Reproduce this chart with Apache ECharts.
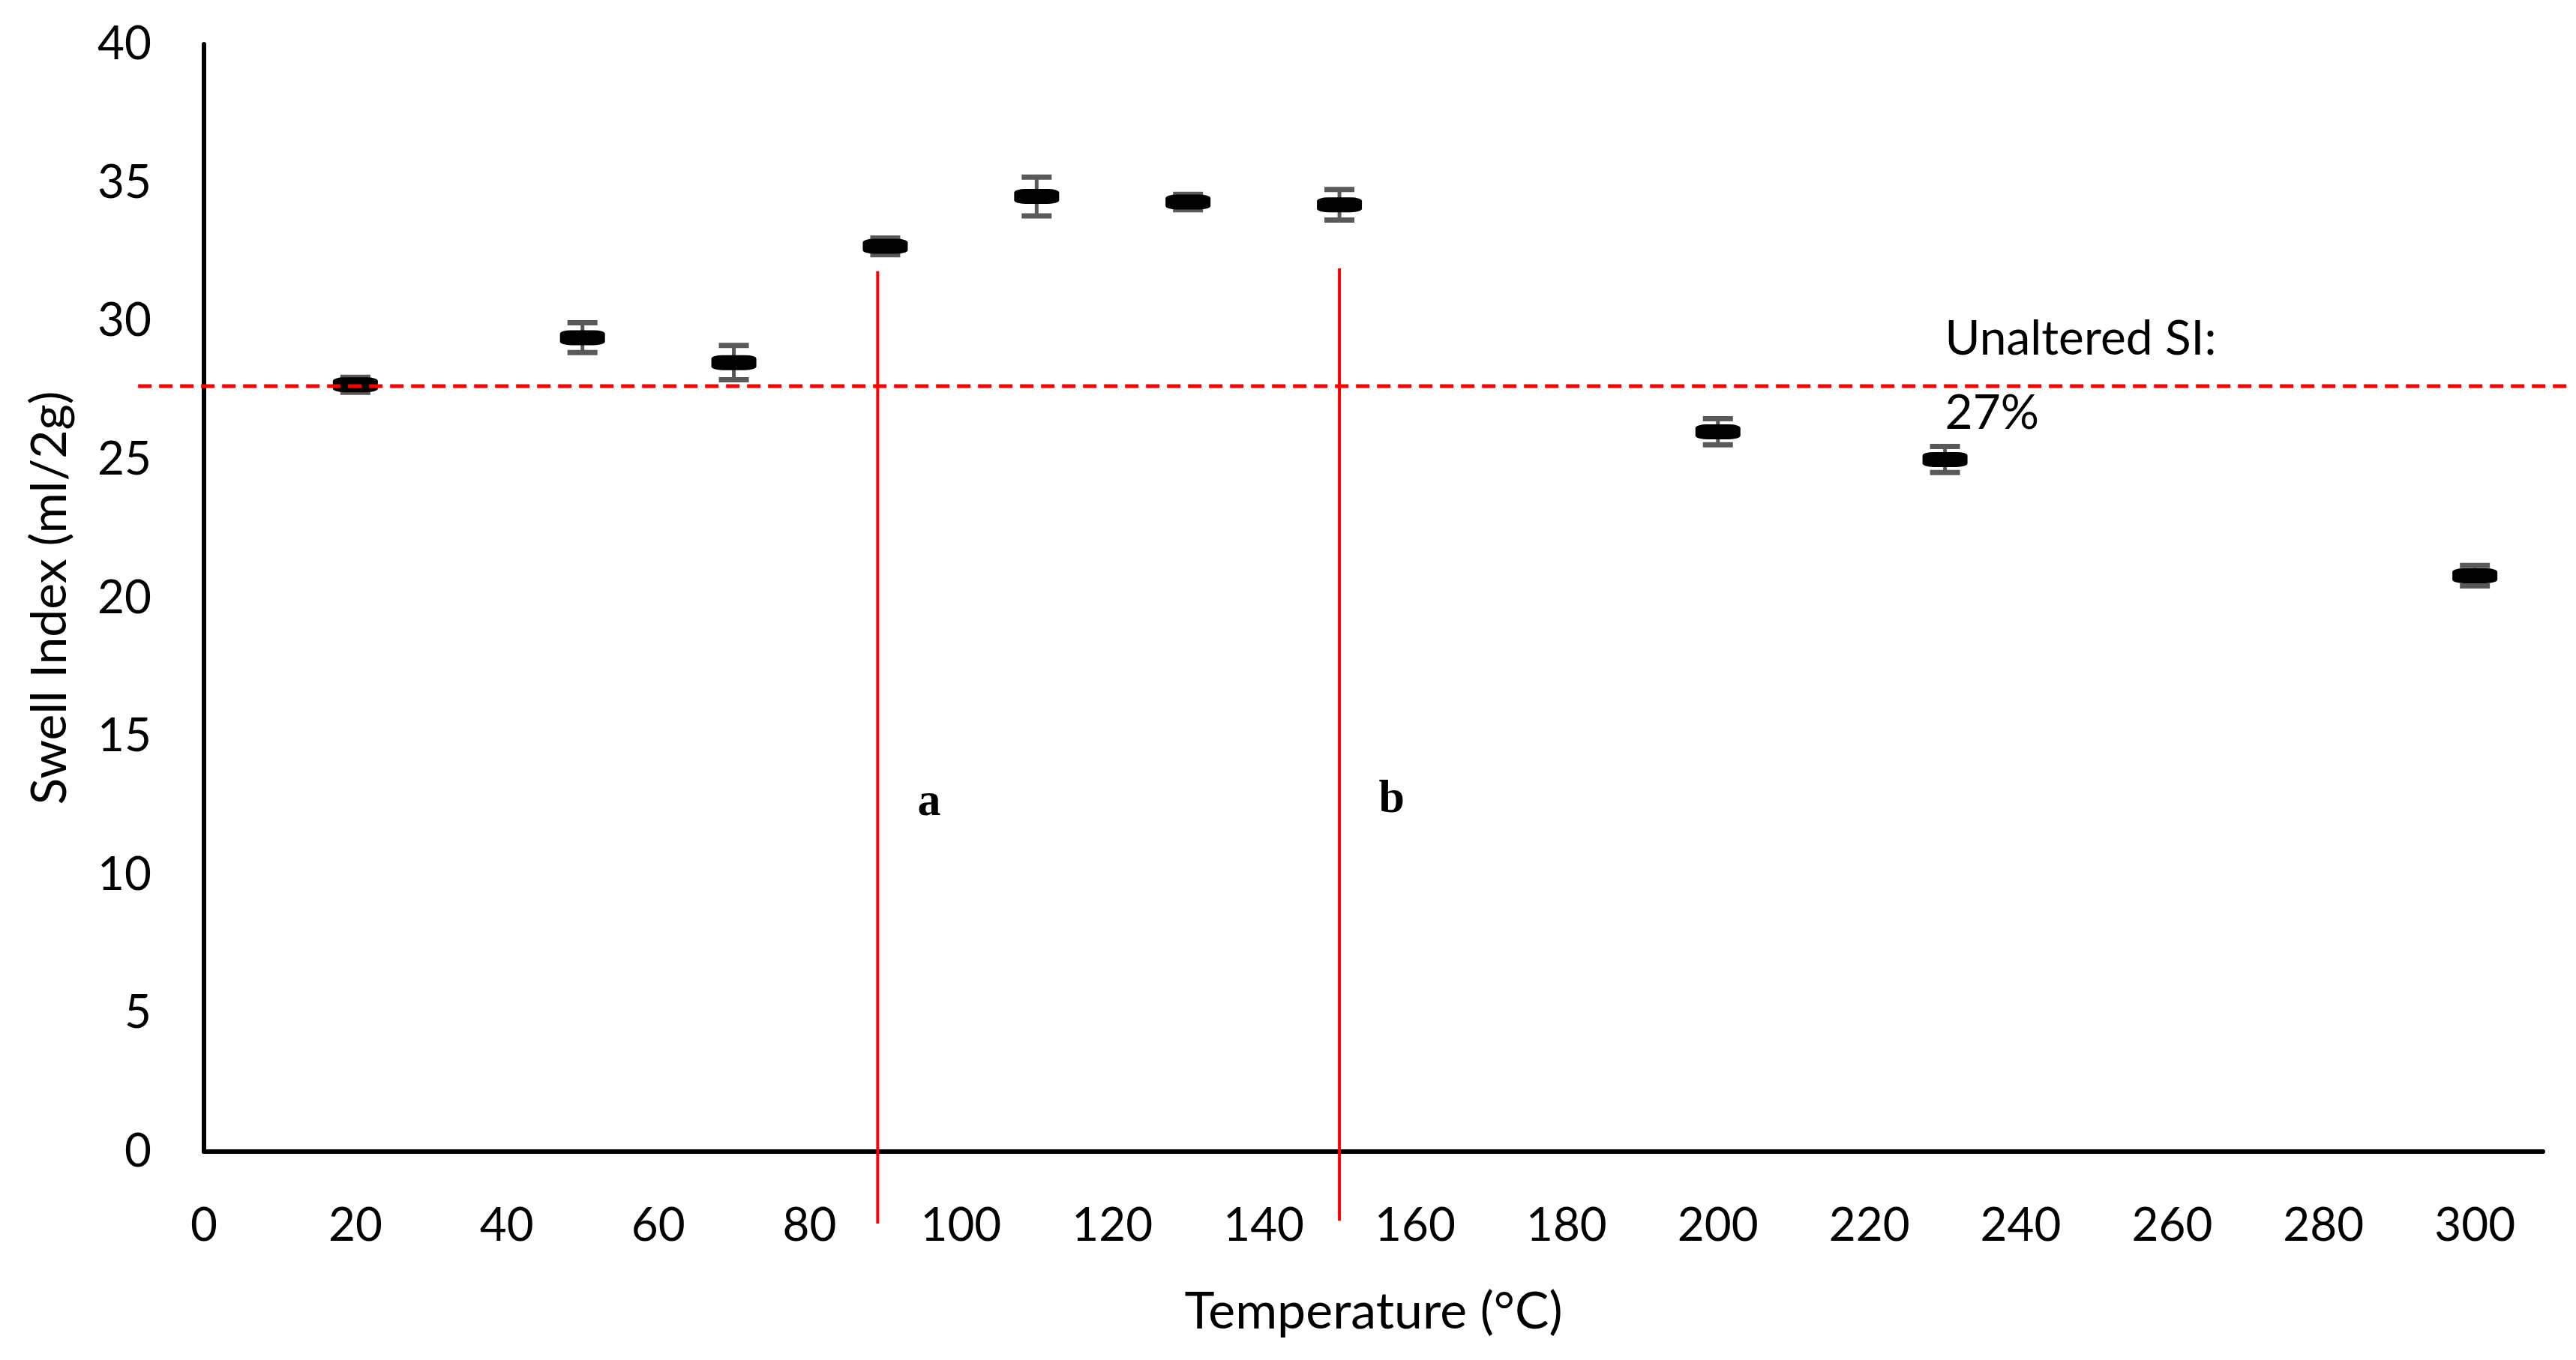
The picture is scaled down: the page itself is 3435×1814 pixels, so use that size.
<!DOCTYPE html>
<html>
<head>
<meta charset="utf-8">
<style>
html, body { margin: 0; padding: 0; background: #fff; }
#chart { width: 3435px; height: 1814px; }
</style>
<script src="https://cdn.jsdelivr.net/npm/echarts@6/dist/echarts.min.js"></script>
</head>
<body>
<div id="chart"></div>
<script>
// measured values
const temps = [20, 50, 70, 90, 110, 130, 150, 200, 230, 300];
const swellIndex = [27.7, 29.4, 28.5, 32.7, 34.5, 34.3, 34.2, 26.0, 25.0, 20.8];
const swellError = [0.27, 0.54, 0.62, 0.3, 0.7, 0.28, 0.55, 0.47, 0.47, 0.37];

// reference lines
const unalteredSI = 27.65;
const unalteredSpan = [-8.7, 313];
const unalteredText = 'Unaltered SI:\n27%';
const unalteredTextAt = [230, 28.0];

const regionLines = [89, 150];
const regionLineTop = [31.8, 31.9];
const regionLineBottom = [-2.6, -2.5];
const regionNames = ['a', 'b'];
const regionNameAt = [[95.8, 12.6], [156.9, 12.7]];

const chart = echarts.init(document.getElementById('chart'));

const font = 'Lato, "Open Sans", sans-serif';

chart.setOption({
    animation: false,
    backgroundColor: '#fff',
    grid: {
        left: 272,
        right: 44,
        top: 59,
        bottom: 278
    },
    xAxis: {
        type: 'value',
        min: 0,
        max: 309,
        interval: 20,
        name: 'Temperature (°C)',
        nameLocation: 'middle',
        nameGap: 180,
        nameTextStyle: { color: '#000', fontSize: 68, fontFamily: font },
        axisLine: { onZero: false, lineStyle: { color: '#000', width: 6 } },
        axisTick: { show: false },
        splitLine: { show: false },
        axisLabel: {
            color: '#000',
            fontSize: 62,
            fontFamily: font,
            margin: 68,
            showMaxLabel: false,
            formatter: v => (v % 20 === 0 ? String(v) : '')
        }
    },
    yAxis: {
        type: 'value',
        min: 0,
        max: 40,
        interval: 5,
        name: 'Swell Index (ml/2g)',
        nameLocation: 'middle',
        nameGap: 172,
        nameTextStyle: { color: '#000', fontSize: 66, fontFamily: font },
        axisLine: { show: true, lineStyle: { color: '#000', width: 6 } },
        axisTick: { show: false },
        splitLine: { show: false },
        axisLabel: { color: '#000', fontSize: 62, fontFamily: font, margin: 70 }
    },
    series: [
        {
            // error bars
            type: 'custom',
            z: 2,
            data: temps.map((t, i) => [t, swellIndex[i], swellError[i]]),
            encode: { x: 0, y: 1 },
            renderItem(params, api) {
                const x = api.value(0);
                const y = api.value(1);
                const e = api.value(2);
                const top = api.coord([x, y + e]);
                const bot = api.coord([x, y - e]);
                const capW = 40;
                const capH = 7;
                const color = '#595959';
                return {
                    type: 'group',
                    children: [
                        {
                            type: 'line',
                            shape: { x1: top[0], y1: top[1], x2: bot[0], y2: bot[1] },
                            style: { stroke: color, lineWidth: 5 }
                        },
                        {
                            type: 'rect',
                            shape: { x: top[0] - capW / 2, y: top[1] - capH / 2, width: capW, height: capH },
                            style: { fill: color }
                        },
                        {
                            type: 'rect',
                            shape: { x: bot[0] - capW / 2, y: bot[1] - capH / 2, width: capW, height: capH },
                            style: { fill: color }
                        }
                    ]
                };
            }
        },
        {
            name: 'Swell Index',
            type: 'scatter',
            z: 3,
            symbol: 'roundRect',
            symbolSize: [60, 20],
            itemStyle: { color: '#000', opacity: 1 },
            data: temps.map((t, i) => [t, swellIndex[i]])
        },
        {
            // vertical region boundaries a / b
            type: 'custom',
            z: 4,
            data: regionLines.map((x, i) => [x, regionLineTop[i], regionLineBottom[i]]),
            encode: { x: 0, y: 1 },
            renderItem(params, api) {
                const p1 = api.coord([api.value(0), api.value(1)]);
                const p2 = api.coord([api.value(0), api.value(2)]);
                return {
                    type: 'line',
                    shape: { x1: p1[0], y1: p1[1], x2: p2[0], y2: p2[1] },
                    style: { stroke: '#ff0000', lineWidth: 4 }
                };
            }
        },
        {
            // unaltered SI dashed line
            type: 'custom',
            z: 5,
            data: [[unalteredSpan[0], unalteredSpan[1], unalteredSI]],
            encode: { x: 0, y: 2 },
            renderItem(params, api) {
                const p1 = api.coord([api.value(0), api.value(2)]);
                const p2 = api.coord([api.value(1), api.value(2)]);
                return {
                    type: 'line',
                    shape: { x1: p1[0], y1: p1[1], x2: p2[0], y2: p2[1] },
                    style: { stroke: '#ff0000', lineWidth: 5, lineDash: [18, 10] }
                };
            }
        },
        {
            // text annotations
            type: 'custom',
            z: 6,
            data: [
                [unalteredTextAt[0], unalteredTextAt[1], 0],
                ...regionNameAt.map((p, i) => [p[0], p[1], i + 1])
            ],
            encode: { x: 0, y: 1 },
            renderItem(params, api) {
                const p = api.coord([api.value(0), api.value(1)]);
                const k = api.value(2);
                if (k === 0) {
                    return {
                        type: 'text',
                        x: p[0],
                        y: p[1],
                        style: {
                            text: unalteredText,
                            fill: '#000',
                            font: '64px ' + font,
                            lineHeight: 99,
                            align: 'left',
                            verticalAlign: 'middle'
                        }
                    };
                }
                return {
                    type: 'text',
                    x: p[0],
                    y: p[1],
                    style: {
                        text: regionNames[k - 1],
                        fill: '#000',
                        font: 'bold 62px "Liberation Serif", "DejaVu Serif", serif',
                        align: 'center',
                        verticalAlign: 'middle'
                    }
                };
            }
        }
    ]
});
</script>
</body>
</html>
